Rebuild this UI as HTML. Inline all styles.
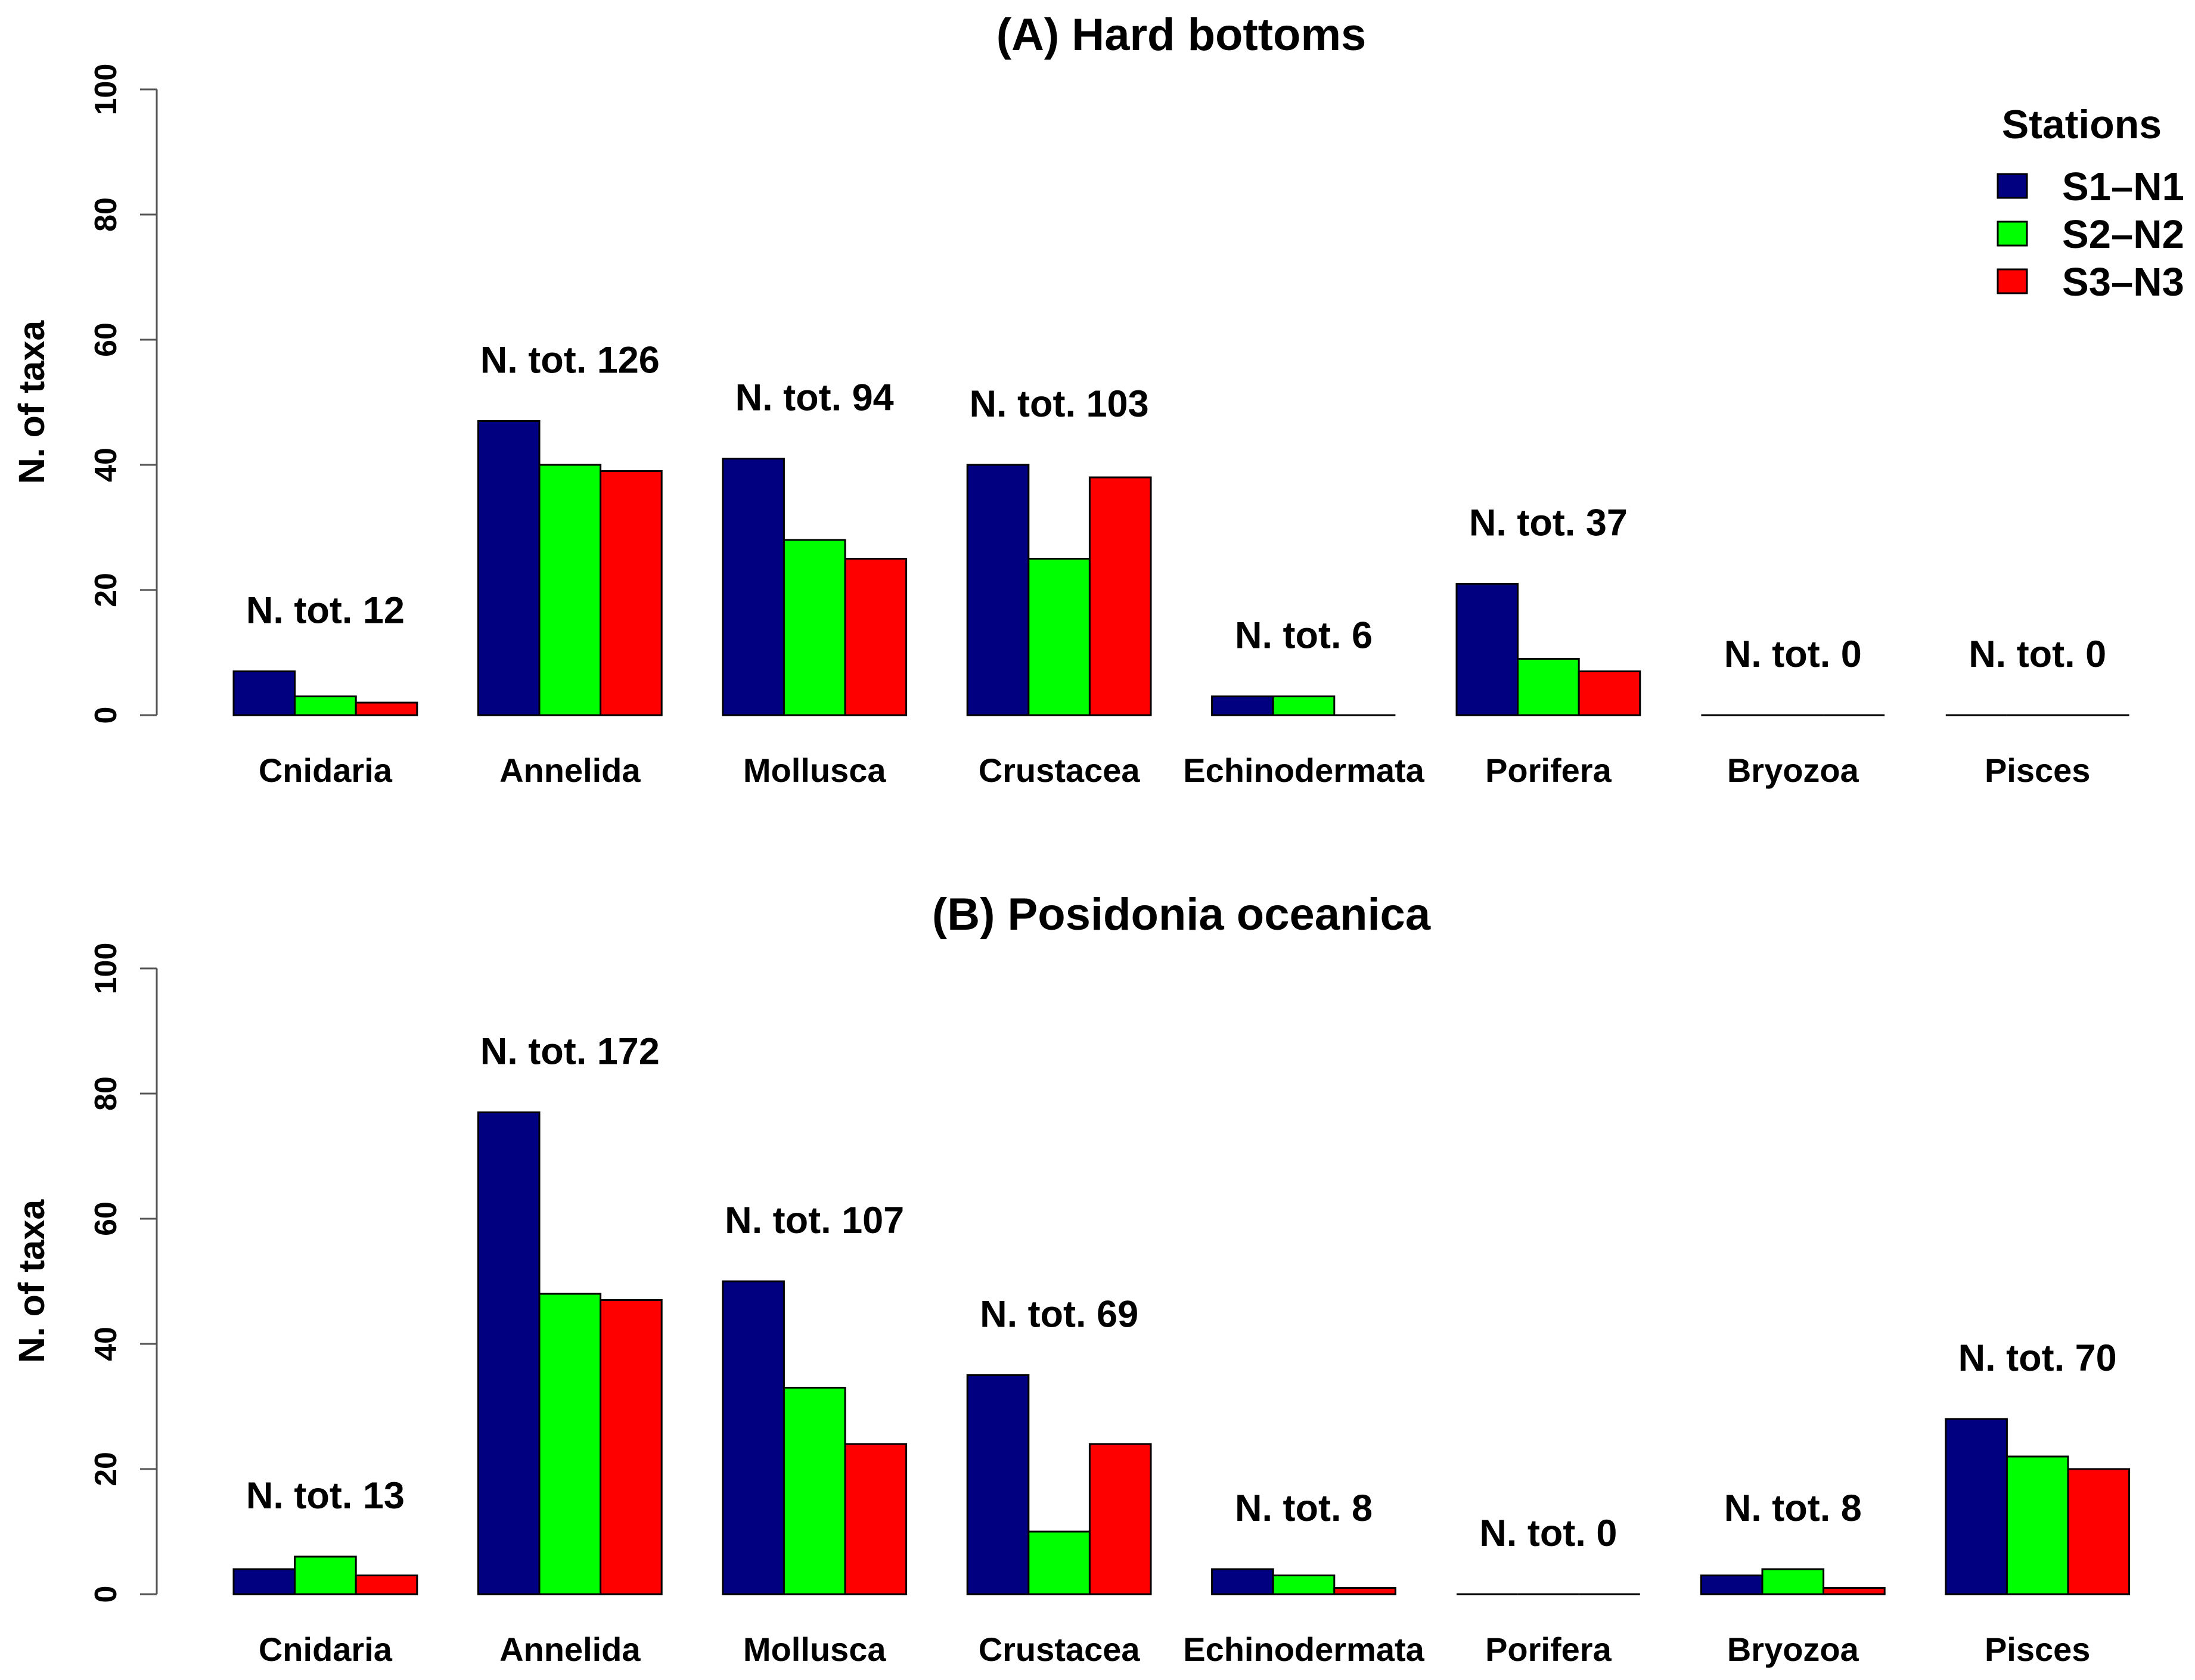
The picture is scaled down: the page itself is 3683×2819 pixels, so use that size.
<!DOCTYPE html>
<html><head><meta charset="utf-8">
<style>
html,body{margin:0;padding:0;background:#fff;}
svg{display:block;font-family:"Liberation Sans",Arial,sans-serif;font-weight:bold;}
</style></head>
<body>
<svg id="chart" width="3683" height="2819" viewBox="0 0 3683 2819" xmlns="http://www.w3.org/2000/svg">
<rect width="3683" height="2819" fill="#fff"/>
<text x="1982" y="84" font-size="76" text-anchor="middle">(A) Hard bottoms</text>
<text x="1982" y="1560" font-size="76" text-anchor="middle">(B) Posidonia oceanica</text>
<g>
<text x="3493" y="232" font-size="68" text-anchor="middle">Stations</text>
<rect x="3352" y="292" width="49" height="40" fill="#000080" stroke="#000" stroke-width="3"/>
<text x="3460" y="336" font-size="67">S1–N1</text>
<rect x="3352" y="372" width="49" height="40" fill="#00ff00" stroke="#000" stroke-width="3"/>
<text x="3460" y="416" font-size="67">S2–N2</text>
<rect x="3352" y="452" width="49" height="40" fill="#ff0000" stroke="#000" stroke-width="3"/>
<text x="3460" y="496" font-size="67">S3–N3</text>
</g>
</svg>
<script>
const categories = ["Cnidaria","Annelida","Mollusca","Crustacea","Echinodermata","Porifera","Bryozoa","Pisces"];
const yTicks = [0,20,40,60,80,100];
const hardS1 = [7,47,41,40,3,21,0,0];
const hardS2 = [3,40,28,25,3,9,0,0];
const hardS3 = [2,39,25,38,0,7,0,0];
const hardTot = [12,126,94,103,6,37,0,0];
const posS1 = [4,77,50,35,4,0,3,28];
const posS2 = [6,48,33,10,3,0,4,22];
const posS3 = [3,47,24,24,1,0,1,20];
const posTot = [13,172,107,69,8,0,8,70];

const NS = "http://www.w3.org/2000/svg";
const svg = document.getElementById("chart");
const colors = ["#000080","#00ff00","#ff0000"];
function mk(tag, attrs, parent){ const e=document.createElementNS(NS,tag); for(const k in attrs) e.setAttribute(k,attrs[k]); (parent||svg).appendChild(e); return e; }

function panel(prefix, y0, y100, series, totals){
  const g = mk("g",{});
  
  
  const yS = v => y0 + (y100-y0)*v/100;
  const barW = 102.6, left0 = 392, step = 410.4;
  const xS = (i,j) => left0 + i*step + j*barW;
  const ax = mk("line",{x1:263,x2:263,y1:yS(0),y2:yS(100),stroke:"#555","stroke-width":3},g);
  
  
  yTicks.forEach(t=>{
    const tk = mk("line",{x1:235,x2:263,y1:yS(t),y2:yS(t),stroke:"#555","stroke-width":3},g);
    
    
    const lb = mk("text",{x:0,y:0,"font-size":52,"text-anchor":"middle",transform:`translate(195,${yS(t)}) rotate(-90)`},g);
    lb.textContent = t;
    
    
  });
  const yt = mk("text",{"font-size":61,"text-anchor":"middle",transform:`translate(74,${yS(50)}) rotate(-90)`},g);
  yt.textContent = "N. of taxa";
  
  
  categories.forEach((c,i)=>{
    let mx = 0;
    series.forEach((s,j)=>{
      const v = s[i]; mx = Math.max(mx,v);
      let el;
      if(v>0){
        el = mk("rect",{x:xS(i,j),y:yS(v),width:barW,height:yS(0)-yS(v),fill:colors[j],stroke:"#000","stroke-width":3},g);
      } else {
        el = mk("line",{x1:xS(i,j),x2:xS(i,j)+barW,y1:yS(0),y2:yS(0),stroke:"#000","stroke-width":3},g);
      }
      
      
    });
    const cx = xS(i,0) + 1.5*barW;
    const tl = mk("text",{x:cx,y:yS(mx)-103+22,"font-size":63,"text-anchor":"middle"},g);
    tl.textContent = "N. tot. " + totals[i];
    
    
    const cl = mk("text",{x:cx,y:yS(0)+112,"font-size":56,"text-anchor":"middle"},g);
    cl.textContent = c;
    
    
  });
}
panel("hard", 1200, 150, [hardS1,hardS2,hardS3], hardTot);
panel("posidonia", 2675, 1625, [posS1,posS2,posS3], posTot);
</script>
</body></html>
